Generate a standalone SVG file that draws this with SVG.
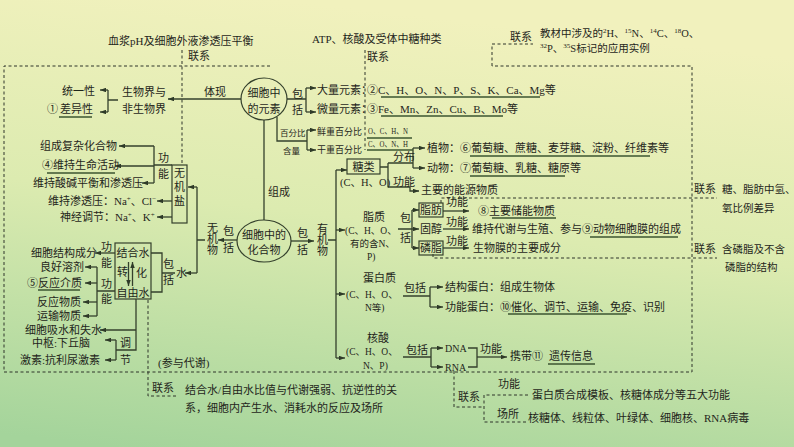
<svg xmlns="http://www.w3.org/2000/svg" width="794" height="447" viewBox="0 0 794 447">
<defs>
<linearGradient id="bg" x1="0.35" y1="0" x2="0.15" y2="1">
<stop offset="0" stop-color="#f1f1bd"/>
<stop offset="0.45" stop-color="#dcebb0"/>
<stop offset="1" stop-color="#a4d49b"/>
</linearGradient>
<marker id="a" viewBox="0 0 8 6" refX="8" refY="3" markerWidth="6" markerHeight="4.5" orient="auto" markerUnits="userSpaceOnUse"><path d="M0,0 L8,3 L0,6 z" fill="#2e3a28"/></marker>
<style>
text{font-family:"Liberation Serif","Noto Sans CJK SC",serif;font-size:11px;fill:#1f261b}
.s{font-size:9px}
.xs{font-size:8.5px}
.m{font-size:9.5px}
.c{text-anchor:middle}
.l{fill:none;stroke:#34402c;stroke-width:1.3}
.ar{fill:none;stroke:#34402c;stroke-width:1.3;marker-end:url(#a)}
.u{fill:none;stroke:#3b5531;stroke-width:1.6}
.d{fill:none;stroke:#2f352b;stroke-width:1;stroke-dasharray:3 2.5}
.b{fill:none;stroke:#34402c;stroke-width:1.2}
</style>
</defs>
<rect width="794" height="447" fill="url(#bg)"/>

<g id="dashed">
<path class="d" d="M270,66 H4 V372 H692 V66 H492"/>
<path class="d" d="M492,66 V44 H533"/>
<path class="d" d="M182,50 V165"/>
<path class="d" d="M365,50 V150"/>
<path class="d" d="M441,203 V198 H717"/>
<path class="d" d="M433,254 V258 H717"/>
<path class="d" d="M148,300 V396 H177"/>
<path class="d" d="M454,371 V407 H484"/>
<path class="d" d="M528,395 H484 V422 H528"/>
</g>

<g id="connectors">
<path class="ar" d="M241,99 H168"/>
<path class="l" d="M118,100 H108 M108,90 V112"/>
<path class="ar" d="M108,90 H100"/>
<path class="ar" d="M108,112 H100"/>
<path class="l" d="M287,99 H306 M306,88 V112"/>
<path class="ar" d="M306,88 H316"/>
<path class="ar" d="M306,112 H316"/>
<path class="l" d="M277,117 V141 H307 M307,130 V150"/>
<path class="ar" d="M307,130 H316"/>
<path class="ar" d="M307,150 H316"/>
<path class="l" d="M264,120 V220"/>
<path class="ar" d="M291,241 H314"/>
<path class="l" d="M328,240 H336 M336,170 V358"/>
<path class="ar" d="M336,170 H347"/>
<path class="ar" d="M336,230 H345"/>
<path class="ar" d="M336,294 H345"/>
<path class="ar" d="M336,358 H345"/>
<path class="l" d="M380,167 H388 M388,163 V187 M388,163 H413 M413,148 V168"/>
<path class="ar" d="M413,148 H425"/>
<path class="ar" d="M413,168 H425"/>
<path class="ar" d="M388,187 H410 V191 H419"/>
<path class="l" d="M398,229 H412 M412,210 V248"/>
<path class="ar" d="M412,210 H419"/>
<path class="ar" d="M412,229 H419"/>
<path class="ar" d="M412,248 H419"/>
<path class="ar" d="M443,211 H469"/>
<path class="ar" d="M443,229 H469"/>
<path class="ar" d="M443,248 H469"/>
<path class="l" d="M403,296 H430 M430,287 V307"/>
<path class="ar" d="M430,287 H443"/>
<path class="ar" d="M430,307 H443"/>
<path class="l" d="M403,357 H431 M431,348 V367"/>
<path class="ar" d="M431,348 H443"/>
<path class="ar" d="M431,367 H443"/>
<path class="l" d="M468,348 H477 V367 H468"/>
<path class="ar" d="M477,357 H507"/>
<path class="ar" d="M237,240 H218"/>
<path class="l" d="M205,240 H197 M197,187 V273"/>
<path class="ar" d="M197,187 H188"/>
<path class="ar" d="M197,273 H185"/>
<path class="l" d="M172,165 H154 M154,146 V183"/>
<path class="ar" d="M154,146 H119"/>
<path class="ar" d="M154,166 H115"/>
<path class="ar" d="M154,183 H142"/>
<path class="ar" d="M172,201 H157"/>
<path class="ar" d="M172,217 H157"/>
<path class="l" d="M151,253 H162 V292 H151 M162,273 H175"/>
<path class="ar" d="M115,253 H95"/>
<path class="l" d="M115,291 H97 M97,267 V316"/>
<path class="ar" d="M97,267 H85"/>
<path class="ar" d="M97,283 H85"/>
<path class="ar" d="M97,302 H83"/>
<path class="ar" d="M97,316 H83"/>
<path class="ar" d="M128.5,262 V286"/>
<path class="ar" d="M132.5,286 V262"/>
<path class="l" d="M136,299 V350 H116 M116,340 V360"/>
<path class="ar" d="M136,330 H100"/>
<path class="ar" d="M116,340 H105"/>
<path class="ar" d="M116,360 H105"/>
</g>

<g id="top-links">
<text x="108" y="45">血浆pH及细胞外液渗透压平衡</text>
<text x="188" y="60">联系</text>
<text x="312" y="43">ATP、核酸及受体中糖种类</text>
<text x="367" y="61">联系</text>
<text x="510" y="41">联系</text>
<text x="540" y="37" style="font-size:10.5px">教材中涉及的<tspan font-size="7" dy="-4">2</tspan><tspan dy="4">H、</tspan><tspan font-size="7" dy="-4">15</tspan><tspan dy="4">N、</tspan><tspan font-size="7" dy="-4">14</tspan><tspan dy="4">C、</tspan><tspan font-size="7" dy="-4">18</tspan><tspan dy="4">O、</tspan></text>
<text x="540" y="52" style="font-size:10.5px"><tspan font-size="7" dy="-4">32</tspan><tspan dy="4">P、</tspan><tspan font-size="7" dy="-4">35</tspan><tspan dy="4">S标记的应用实例</tspan></text>
</g>

<g id="elements">
<ellipse cx="264" cy="99" rx="23" ry="21" class="b"/>
<text x="264" y="97" class="c">细胞中</text>
<text x="264" y="113" class="c">的元素</text>
<text x="204" y="96">体现</text>
<text x="292" y="98">包</text>
<text x="292" y="114">括</text>
<text x="280" y="136" class="xs">百分比</text>
<text x="283" y="154" class="xs">含量</text>
<text x="268" y="196">组成</text>
</g>

<g id="world">
<text x="122" y="96">生物界与</text>
<text x="122" y="113">非生物界</text>
<text x="62" y="95">统一性</text>
<text x="47" y="113">①</text>
<text x="60" y="113">差异性</text>
<path class="u" d="M59,117 H92"/>
</g>

<g id="element-kinds">
<text x="317" y="94">大量元素：</text>
<text x="317" y="113">微量元素：</text>
<text x="367" y="94">②C、H、O、N、P、S、K、Ca、Mg等</text>
<path class="u" d="M381,97 H540"/>
<text x="367" y="113">③Fe、Mn、Zn、Cu、B、Mo等</text>
<path class="u" d="M381,116 H503"/>
<text x="317" y="135" class="s">鲜重百分比</text>
<text x="317" y="153" class="s">干重百分比</text>
<text x="368" y="134" class="s" textLength="40" lengthAdjust="spacingAndGlyphs">O、C、H、N</text>
<path class="u" d="M367,138 H412"/>
<text x="368" y="147" class="s" textLength="40" lengthAdjust="spacingAndGlyphs">C、O、N、H</text>
<path class="u" d="M367,150 H413"/>
</g>

<g id="compounds">
<ellipse cx="264" cy="241" rx="27" ry="21" class="b"/>
<text x="264" y="239" class="c">细胞中的</text>
<text x="264" y="254" class="c">化合物</text>
<text x="297" y="237">包</text>
<text x="297" y="254">括</text>
<text x="317" y="233">有</text>
<text x="317" y="244">机</text>
<text x="317" y="255">物</text>
</g>

<g id="sugar">
<rect x="347" y="159" width="33" height="15" class="b"/>
<text x="363.5" y="171" class="c">糖类</text>
<text x="340" y="186" style="font-size:10.5px">(C、H、O)</text>
<text x="393" y="161">分布</text>
<text x="393" y="186">功能</text>
<text x="427" y="152">植物：⑥葡萄糖、蔗糖、麦芽糖、淀粉、纤维素等</text>
<path class="u" d="M470,156 H650"/>
<text x="427" y="172">动物：⑦葡萄糖、乳糖、糖原等</text>
<path class="u" d="M470,176 H565"/>
<text x="421" y="194">主要的能源物质</text>
</g>

<g id="lipid">
<text x="363" y="221">脂质</text>
<text x="345" y="234" class="m">(C、H、O、</text>
<text x="350" y="247" class="m">有的含N、</text>
<text x="367" y="260" class="m">P)</text>
<text x="400" y="222">包</text>
<text x="400" y="242">括</text>
<rect x="419" y="203" width="24" height="14" class="b"/>
<text x="431" y="214" class="c">脂肪</text>
<text x="420" y="233">固醇</text>
<rect x="419" y="241" width="24" height="14" class="b"/>
<text x="431" y="252" class="c">磷脂</text>
<text x="446" y="206">功能</text>
<text x="446" y="226">功能</text>
<text x="446" y="245">功能</text>
<text x="478" y="215">⑧主要储能物质</text>
<path class="u" d="M492,218 H556"/>
<text x="472" y="233">维持代谢与生殖、参与⑨动物细胞膜的组成</text>
<path class="u" d="M590,237 H678"/>
<text x="473" y="252">生物膜的主要成分</text>
</g>

<g id="protein">
<text x="363" y="282">蛋白质</text>
<text x="346" y="298" class="m">(C、H、O、</text>
<text x="365" y="311" class="m">N等)</text>
<text x="404" y="292">包括</text>
<text x="445" y="291">结构蛋白：组成生物体</text>
<text x="445" y="311">功能蛋白：⑩催化、调节、运输、免疫、识别</text>
<path class="u" d="M508,314 H627"/>
</g>

<g id="nucleic">
<text x="367" y="342">核酸</text>
<text x="346" y="355" class="m">(C、H、O、</text>
<text x="363" y="369" class="m">N、P)</text>
<text x="406" y="354">包括</text>
<text x="445" y="352" style="font-size:10px">DNA</text>
<text x="445" y="371" style="font-size:10px">RNA</text>
<text x="480" y="353">功能</text>
<text x="510" y="360">携带⑪</text>
<text x="549" y="360">遗传信息</text>
<path class="u" d="M548,364 H595"/>
</g>

<g id="inorganic">
<text x="223" y="235">包</text>
<text x="223" y="252">括</text>
<text x="207" y="232">无</text>
<text x="207" y="243">机</text>
<text x="207" y="254">物</text>
<rect x="172" y="165" width="15" height="58" class="b"/>
<text x="179.5" y="177" class="c">无</text>
<text x="179.5" y="191" class="c">机</text>
<text x="179.5" y="205" class="c">盐</text>
<text x="158" y="162">功</text>
<text x="158" y="178">能</text>
<text x="40" y="150">组成复杂化合物</text>
<text x="42" y="169">④维持生命活动</text>
<path class="u" d="M47,173 H115"/>
<text x="33" y="187">维持酸碱平衡和渗透压</text>
<text x="48" y="205">维持渗透压：Na<tspan font-size="7" dy="-4">+</tspan><tspan dy="4">、Cl</tspan><tspan font-size="7" dy="-4">−</tspan></text>
<text x="60" y="221">神经调节：Na<tspan font-size="7" dy="-4">+</tspan><tspan dy="4">、K</tspan><tspan font-size="7" dy="-4">+</tspan></text>
</g>

<g id="water">
<text x="176" y="277">水</text>
<text x="163" y="268">包</text>
<text x="163" y="284">括</text>
<rect x="115" y="243" width="36" height="56" class="b"/>
<text x="133" y="257" class="c">结合水</text>
<text x="133" y="297" class="c">自由水</text>
<text x="117" y="276">转</text>
<text x="136" y="277">化</text>
<text x="101" y="251">功</text>
<text x="101" y="267">能</text>
<text x="31" y="257">细胞结构成分</text>
<text x="101" y="288">功</text>
<text x="101" y="303">能</text>
<text x="40" y="271">良好溶剂</text>
<text x="27" y="287">⑤反应介质</text>
<path class="u" d="M38,290 H80"/>
<text x="37" y="306">反应物质</text>
<text x="37" y="320">运输物质</text>
<text x="25" y="334">细胞吸水和失水</text>
<text x="120" y="347">调</text>
<text x="120" y="364">节</text>
<text x="32" y="347">中枢:下丘脑</text>
<text x="20" y="364">激素:抗利尿激素</text>
<text x="158" y="367">(参与代谢)</text>
</g>

<g id="water-link">
<text x="152" y="392">联系</text>
<text x="185" y="394">结合水/自由水比值与代谢强弱、抗逆性的关</text>
<text x="185" y="412">系，细胞内产生水、消耗水的反应及场所</text>
</g>

<g id="rna-link">
<text x="458" y="401">联系</text>
<text x="498" y="388">功能</text>
<text x="497" y="418">场所</text>
<text x="532" y="399">蛋白质合成模板、核糖体成分等五大功能</text>
<text x="528" y="422">核糖体、线粒体、叶绿体、细胞核、RNA病毒</text>
</g>

<g id="right-links">
<text x="694" y="193">联系</text>
<text x="722" y="193" style="font-size:10.5px">糖、脂肪中氢、</text>
<text x="722" y="212" style="font-size:10.5px">氧比例差异</text>
<text x="694" y="253">联系</text>
<text x="722" y="253" style="font-size:10.5px">含磷脂及不含</text>
<text x="725" y="271" style="font-size:10.5px">磷脂的结构</text>
</g>
</svg>
